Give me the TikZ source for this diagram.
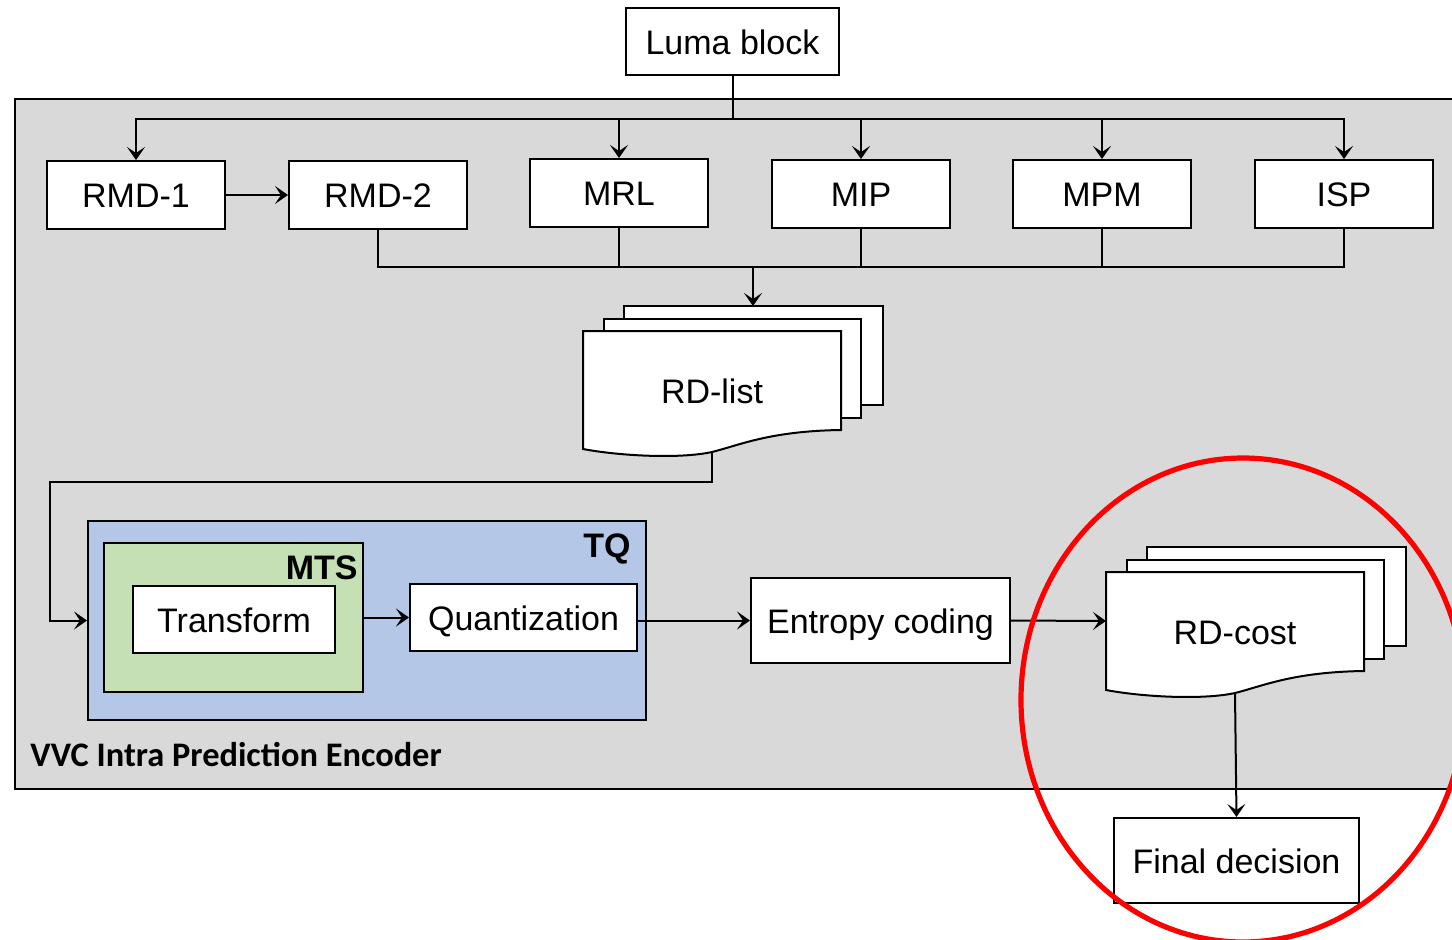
\documentclass[tikz,border=0pt]{standalone}
\usepackage{fontspec}
\setmainfont{Liberation Sans}
\newfontfamily\labelfont{Carlito}
\usetikzlibrary{arrows.meta,calc}
\definecolor{panelgray}{HTML}{D9D9D9}
\definecolor{tqblue}{HTML}{B4C7E7}
\definecolor{mtsgreen}{HTML}{C5E0B4}

% stack of three document sheets; #1 = top-left of the front sheet, #2 = name, #3 = text
\newcommand\docstack[3]{%
  \begin{scope}[shift={#1}]
    \draw[sheet] (41,-25) rectangle (300,74);
    \draw[sheet] (21,-12) rectangle (278,87);
    \draw[sheet] (0,0) -- (258,0) -- (258,99)
      .. controls (187,100) and (157,114) .. (129,121)
      .. controls (97,128) and (37,125) .. (0,118) -- cycle;
    \node[txt] (#2) at (129,60) {#3};
    \coordinate (#2-top) at (170,-25);
    \coordinate (#2-bot) at (129,121);
    \coordinate (#2-left) at (0,49);
  \end{scope}}

\begin{document}
\begin{tikzpicture}[x=0.5pt,y=-0.5pt,
  txt/.style={inner sep=0pt,text height=12.5pt,text depth=0pt,font=\fontsize{17}{20}\selectfont},
  box/.style={txt,draw=black,line width=1pt,fill=white},
  sheet/.style={draw=black,line width=1pt,fill=white},
  wire/.style={line width=1pt},
  arr/.style={line width=1pt,-{Stealth[length=6.5pt,width=9pt,inset=3pt]}},
  tag/.style={inner sep=0pt,anchor=east,font=\bfseries\fontsize{17}{20}\selectfont},
]
\useasboundingbox (0,0) rectangle (1452,939);
\fill[white] (0,0) rectangle (1452,939);

% encoder panel
\draw[line width=1pt,fill=panelgray] (15,99) rectangle (1475,789);
\node[inner sep=0pt,anchor=west,font=\labelfont\bfseries\fontsize{17.2}{20}\selectfont] (enclabel) at (30,755) {VVC Intra Prediction Encoder};

% input and mode boxes
\node[box,minimum width=106.5pt,minimum height=33.5pt] (luma) at (732.5,41.5) {Luma block};
\node[box,minimum width=89pt,minimum height=34pt] (rmd1) at (136,195) {RMD-1};
\node[box,minimum width=89pt,minimum height=34pt] (rmd2) at (378,195) {RMD-2};
\node[box,minimum width=89pt,minimum height=34pt] (mrl) at (619,193) {MRL};
\node[box,minimum width=89pt,minimum height=34pt] (mip) at (861,194) {MIP};
\node[box,minimum width=89pt,minimum height=34pt] (mpm) at (1102,194) {MPM};
\node[box,minimum width=89pt,minimum height=34pt] (isp) at (1344,194) {ISP};

% distribution bus from the luma block
\foreach \m in {rmd1,mrl,mip,mpm,isp}
  \draw[arr] (luma.south) -- ++(0,43) -| (\m.north);
\draw[arr] (rmd1.east) -- (rmd2.west);

% collection bus into the RD list
\coordinate (busB) at (753,267);
\draw[wire] (rmd2.south) |- (busB) -| (isp.south);
\foreach \m in {mrl,mip,mpm}
  \draw[wire] (\m.south) -- (\m.south |- busB);

\docstack{(583,331)}{rdlist}{RD-list}
\draw[arr] (busB) -- (rdlist-top);

% transform and quantization
\node[draw=black,line width=1pt,fill=tqblue,minimum width=279pt,minimum height=99.5pt,inner sep=0pt] (tq) at (367,620.5) {};
\node[tag] (tqlabel) at (631,549) {TQ};
\node[draw=black,line width=1pt,fill=mtsgreen,minimum width=129.5pt,minimum height=74.5pt,inner sep=0pt] (mts) at (233.5,617.5) {};
\node[tag] (mtslabel) at (358,568) {MTS};
\node[box,minimum width=101pt,minimum height=33.5pt] (transform) at (234,619.5) {Transform};
\node[box,minimum width=113.5pt,minimum height=33.5pt] (quant) at (523.5,617.5) {Quantization};

\coordinate (turn) at (50,482);
\draw[arr] (rdlist-bot) |- (turn) |- (tq.west);
\draw[arr] (mts.east) -- (quant.west);

% entropy coding and cost
\node[box,minimum width=129.5pt,minimum height=42.5pt] (entropy) at (880.5,620.5) {Entropy coding};
\draw[arr] (quant.east |- entropy.west) -- (entropy.west);

\docstack{(1106,572)}{rdcost}{RD-cost}
\draw[arr] (entropy.east) -- (rdcost-left);

\node[box,minimum width=122.5pt,minimum height=42.5pt] (final) at (1236.5,860.5) {Final decision};
\draw[arr] (rdcost-bot) -- (final.north);

% highlight
\draw[red,line width=2.6pt] (1243,700) ellipse [x radius=111pt, y radius=121pt];
\end{tikzpicture}
\end{document}
